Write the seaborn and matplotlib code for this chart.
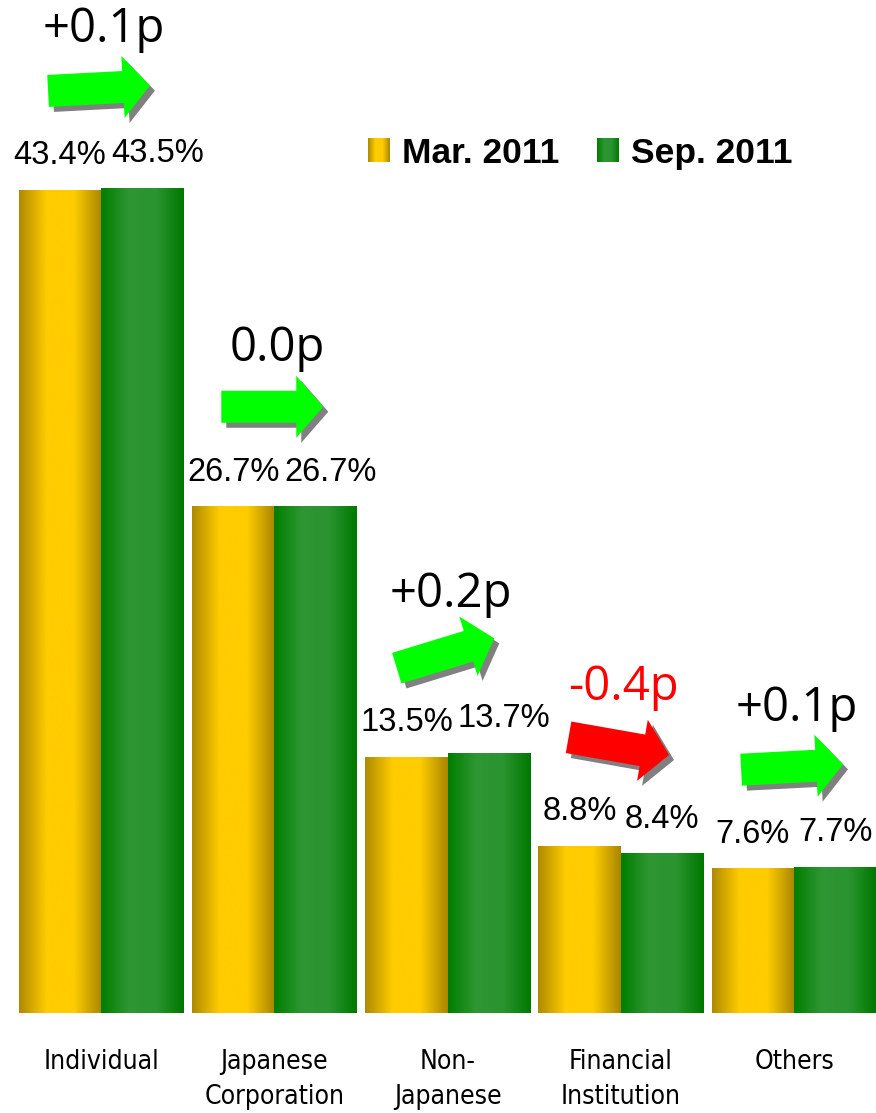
import numpy as np
import pandas as pd
import matplotlib
matplotlib.use('Agg')
import matplotlib.pyplot as plt
from matplotlib.colors import LinearSegmentedColormap
from matplotlib.patches import Polygon
from matplotlib.transforms import IdentityTransform
import seaborn as sns

# data
categories = ['Individual', 'Japanese\nCorporation', 'Non-\nJapanese', 'Financial\nInstitution', 'Others']
periods = ['Mar. 2011', 'Sep. 2011']
mar_2011 = [43.4, 26.7, 13.5, 8.8, 7.6]
sep_2011 = [43.5, 26.7, 13.7, 8.4, 7.7]

# arrow tilt per group (style only)
arrow_angles = [3, 0, 17, -10, 3]

df = pd.DataFrame({
    'category': categories * 2,
    'period': [periods[0]] * len(categories) + [periods[1]] * len(categories),
    'share': mar_2011 + sep_2011,
})

gold = LinearSegmentedColormap.from_list('gold', ['#AE8A00', '#FFCC00', '#FFCC00', '#A88600'])
green = LinearSegmentedColormap.from_list('green', ['#007E00', '#2E9632', '#2A9430', '#007800'])
grad = np.linspace(0, 1, 256)[None, :]

sns.set_style('white')
plt.rcParams['text.color'] = 'black'
plt.rcParams['xtick.color'] = 'black'

W, H = 876, 1113
fig = plt.figure(figsize=(W / 100, H / 100), dpi=100)
ax = fig.add_axes([0, 100 / H, 1, 1013 / H])

sns.barplot(data=df, x='category', y='share', hue='period', palette=['#FFCC00', '#2A9630'],
            width=0.95, gap=0, saturation=1, legend=False, ax=ax)

# gradient fill on every bar
for patch in ax.patches:
    x0, w, h = patch.get_x(), patch.get_width(), patch.get_height()
    if h <= 0:
        continue
    cmap = gold if patch.get_facecolor()[1] > 0.7 else green
    ax.imshow(grad, cmap=cmap, aspect='auto', extent=(x0, x0 + w, 0, h), zorder=3)
    patch.set_visible(False)

ax.set_xlim(-0.583, 4.473)
ax.set_ylim(0, 53.43)
for s in ax.spines.values():
    s.set_visible(False)
ax.set_yticks([])
ax.set_xlabel('')
ax.set_ylabel('')
ax.set_xticks(range(len(categories)))
ax.set_xticklabels(categories, fontfamily='DejaVu Sans', fontstretch='condensed',
                   fontsize=19, linespacing=1.45)
ax.tick_params(axis='x', length=0, pad=26)

fig.canvas.draw()
renderer = fig.canvas.get_renderer()

# value labels (second label pushed right if it would touch the first)
n = len(categories)
bw = 0.95 / 2
for i in range(n):
    px0, py0 = ax.transData.transform((i - bw / 2, mar_2011[i]))
    px1, py1 = ax.transData.transform((i + bw / 2, sep_2011[i]))
    t0 = fig.text(px0 / W, (py0 + 26) / H, f'{mar_2011[i]}%', ha='center', va='baseline',
                  fontfamily='Liberation Sans', fontsize=23.5)
    t1 = fig.text(px1 / W, (py1 + 26) / H, f'{sep_2011[i]}%', ha='center', va='baseline',
                  fontfamily='Liberation Sans', fontsize=23.5)
    b0 = t0.get_window_extent(renderer)
    b1 = t1.get_window_extent(renderer)
    shift = max(0, b0.x1 + 5 - b1.x0)
    if b1.x1 + shift > W - 1:
        shift = W - 1 - b1.x1
    t1.set_x((px1 + shift) / W)

# change arrows and labels
shape = np.array([[-51, -16], [-51, 16], [24, 16], [24, 31], [51, 0], [24, -31], [24, -16]], float)
for i in range(n):
    d = round(sep_2011[i] - mar_2011[i], 1)
    label = '0.0p' if d == 0 else f'{d:+.1f}p'
    top = max(mar_2011[i], sep_2011[i])
    px, py = ax.transData.transform((i, top))
    a = np.deg2rad(arrow_angles[i])
    rot = np.array([[np.cos(a), -np.sin(a)], [np.sin(a), np.cos(a)]])
    pts = shape @ rot.T + [px - 2, py + 100]
    fill = '#FF0000' if d < 0 else '#00FF00'
    fig.add_artist(Polygon(pts + [5, -5], closed=True, transform=IdentityTransform(),
                           facecolor='#808080', edgecolor='none', zorder=4))
    fig.add_artist(Polygon(pts, closed=True, transform=IdentityTransform(),
                           facecolor=fill, edgecolor='none', zorder=5))
    fig.text((px + 3) / W, (py + 146) / H, label, ha='center', va='baseline',
             fontfamily='Open Sans', fontsize=34,
             color='#FF0000' if d < 0 else 'black')

# legend
for name, cmap, sx in zip(periods, [gold, green], [368, 597]):
    lax = fig.add_axes([sx / W, (H - 162) / H, 22 / W, 24 / H])
    lax.imshow(grad, cmap=cmap, aspect='auto')
    lax.axis('off')
    fig.text((sx + 34) / W, (H - 163) / H, name, ha='left', va='baseline',
             fontfamily='Liberation Sans', fontweight='bold', fontsize=25.5)

fig.savefig('out.png', dpi=100)
